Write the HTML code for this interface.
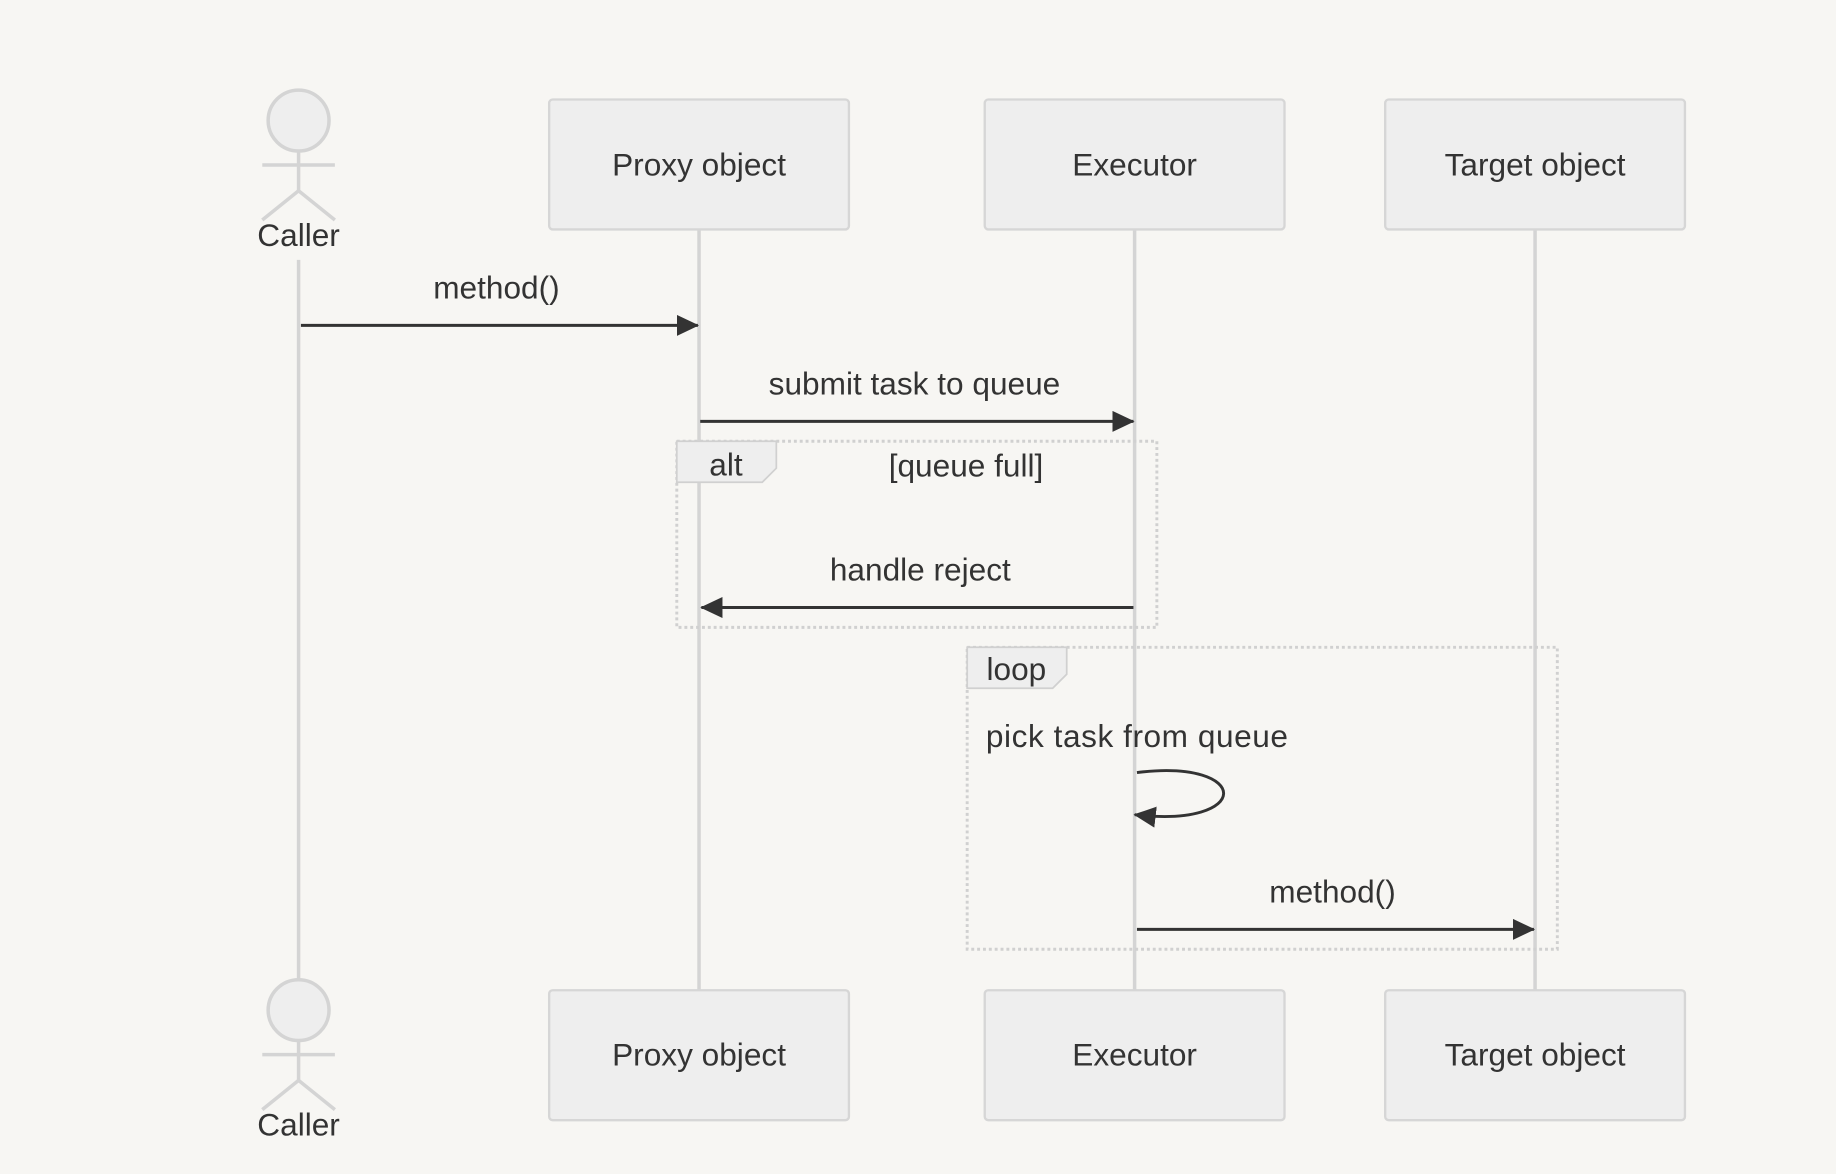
<!DOCTYPE html>
<html><head><meta charset="utf-8"><style>
html,body{margin:0;padding:0;background:#f7f6f3;}
svg{display:block}
text{font-family:"Liberation Sans",sans-serif;fill:#333;font-size:27px;text-anchor:middle;dominant-baseline:middle}
</style></head><body>
<svg width="1836" height="1174" viewBox="0 0 1568 1003" preserveAspectRatio="none" xmlns="http://www.w3.org/2000/svg">
<rect x="0" y="0" width="1568" height="1003" fill="#f7f6f3"/>
<defs>
<marker id="ah" markerWidth="20" markerHeight="20" refX="18" refY="9" orient="auto" markerUnits="userSpaceOnUse">
<path d="M0,0 L19,9 L0,18 z" fill="#333"/></marker>
</defs>
<g stroke="#d4d4d4" stroke-width="3" fill="none">
<line x1="255" y1="222" x2="255" y2="836"/>
<line x1="597" y1="196" x2="597" y2="846"/>
<line x1="969" y1="196" x2="969" y2="846"/>
<line x1="1311" y1="196" x2="1311" y2="846"/>
</g>
<g fill="#eeeeee" stroke="#d6d6d6" stroke-width="2">
<rect x="469" y="85" width="256" height="111" rx="3"/>
<rect x="841" y="85" width="256" height="111" rx="3"/>
<rect x="1183" y="85" width="256" height="111" rx="3"/>
<rect x="469" y="846" width="256" height="111" rx="3"/>
<rect x="841" y="846" width="256" height="111" rx="3"/>
<rect x="1183" y="846" width="256" height="111" rx="3"/>
</g>
<g fill="#eeeeee" stroke="#d4d4d4" stroke-width="3">
<circle cx="255" cy="103" r="26"/>
<line x1="255" y1="129" x2="255" y2="163"/><line x1="224" y1="141" x2="286" y2="141"/>
<polyline points="224,188 255,163 286,188" fill="none"/>
<circle cx="255" cy="863" r="26"/>
<line x1="255" y1="889" x2="255" y2="923"/><line x1="224" y1="901" x2="286" y2="901"/>
<polyline points="224,948 255,923 286,948" fill="none"/>
</g>
<text x="255" y="203">Caller</text>
<text x="255" y="963">Caller</text>
<text x="597" y="143">Proxy object</text>
<text x="969" y="143">Executor</text>
<text x="1311" y="143">Target object</text>
<text x="597" y="903">Proxy object</text>
<text x="969" y="903">Executor</text>
<text x="1311" y="903">Target object</text>
<g stroke="#d0d0d0" stroke-width="2.5" stroke-dasharray="2.5,2.5" fill="none">
<rect x="578" y="377" width="410" height="159"/>
<rect x="826" y="553" width="504" height="258"/>
</g>
<g fill="#eeeeee" stroke="#d0d0d0" stroke-width="1.5">
<polygon points="578,377 663,377 663,400 651,412 578,412"/>
<polygon points="826,553 911,553 911,576 899,588 826,588"/>
</g>
<text x="620" y="399">alt</text>
<text x="825" y="400">[queue full]</text>
<text x="868" y="574">loop</text>
<g stroke="#333" stroke-width="2.5" fill="none">
<line x1="257" y1="278" x2="596" y2="278" marker-end="url(#ah)"/>
<line x1="598" y1="360" x2="968" y2="360" marker-end="url(#ah)"/>
<line x1="968" y1="519" x2="599" y2="519" marker-end="url(#ah)"/>
<path d="M971,660 C1070,648 1070,708 969,696" marker-end="url(#ah)"/>
<line x1="971" y1="794" x2="1310" y2="794" marker-end="url(#ah)"/>
</g>
<text x="424" y="248">method()</text>
<text x="781" y="330">submit task to queue</text>
<text x="786" y="489">handle reject</text>
<text x="842" y="631" style="text-anchor:start" textLength="258">pick task from queue</text>
<text x="1138" y="764">method()</text>
</svg>
</body></html>
